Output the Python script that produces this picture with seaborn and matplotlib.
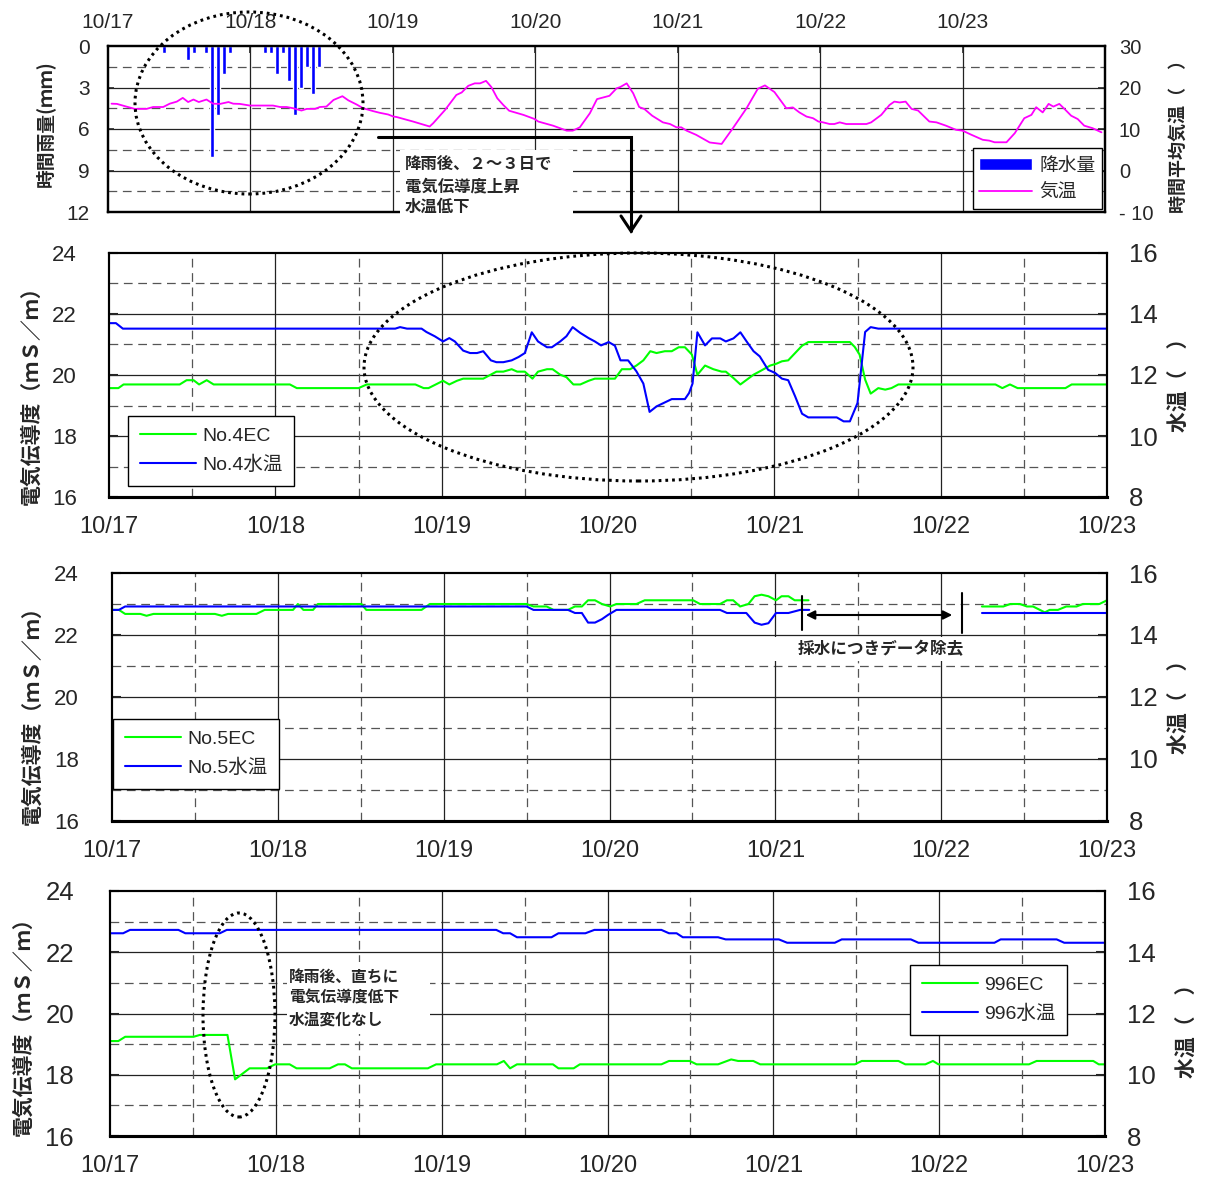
import numpy as np
import matplotlib
matplotlib.use("Agg")
import matplotlib.pyplot as plt
import seaborn as sns
from matplotlib.patches import Ellipse, Rectangle, FancyArrowPatch
from matplotlib.lines import Line2D

# ---------------- data (x = hours since 10/17 00:00) ----------------
day_labels = ["10/17", "10/18", "10/19", "10/20", "10/21", "10/22", "10/23"]

rain_hour = [9.5, 13.5, 14.5, 16.5, 17.5, 18.5, 19.5, 20.5,
             26.5, 27.5, 28.5, 29.5, 30.5, 31.5, 32.5, 33.5, 34.5, 35.5]
rain_mm = [0.5, 1.0, 0.5, 0.5, 8.0, 5.0, 2.0, 0.5,
           0.5, 0.5, 2.0, 0.5, 2.5, 5.0, 3.0, 1.5, 3.5, 1.5]

air_hour = [0.6, 1.5, 3.1, 4.5, 6.5, 7.6, 9.3, 10.4, 11.6, 12.6, 13.5, 14.4, 15.3, 16.6,
            17.7, 18.9, 20.3, 21.1, 22.2, 23.9, 27.8, 29.0, 30.1, 31.2, 32.6, 33.5, 34.9,
            35.7, 36.8, 38.0, 39.5, 40.5, 41.9, 43.0, 44.7, 45.8, 47.2, 48.1, 48.6, 51.4,
            54.2, 54.8, 56.8, 58.7, 59.6, 60.7, 61.8, 62.7, 63.7, 64.6, 65.6, 66.6, 67.6,
            70.0, 71.9, 72.5, 75.0, 77.3, 78.3, 79.5, 81.2, 82.4, 84.5, 85.7, 86.3, 87.4,
            88.5, 89.5, 90.4, 91.7, 93.5, 94.7, 95.8, 96.6, 97.5, 99.1, 101.4, 103.4, 105.3,
            107.6, 109.5, 110.7, 112.3, 114.3, 115.4, 116.5, 117.7, 118.8, 119.7, 120.5,
            121.6, 122.4, 123.3, 124.4, 127.8, 128.6, 130.3, 131.7, 132.5, 133.4, 134.4,
            135.4, 136.5, 138.4, 139.6, 141.2, 142.9, 144.0, 145.5, 147.4, 148.5, 149.4,
            151.4, 152.8, 154.4, 155.6, 156.4, 157.5, 158.5, 159.3, 160.3, 161.2, 162.3,
            163.4, 164.5, 165.9, 167.4]
air_temp = [16.1, 16.05, 15.4, 14.85, 14.85, 15.3, 15.3, 16.1, 16.6, 17.5, 16.5, 17.1, 16.5, 17.1,
            16.1, 16.05, 16.5, 16.1, 16.05, 15.65, 15.65, 15.3, 15.3, 15.0, 14.45, 14.85, 14.85,
            15.3, 15.4, 17.0, 17.9, 16.9, 15.9, 15.0, 14.3, 13.9, 13.5, 13.0, 12.9, 11.8,
            10.6, 11.4, 14.6, 18.2, 18.8, 20.4, 21.0, 21.0, 21.6, 20.1, 17.4, 15.8, 14.4,
            13.4, 12.4, 11.8, 10.8, 9.6, 9.6, 10.4, 13.8, 17.2, 18.0, 19.8, 20.1, 21.0,
            18.6, 15.3, 14.8, 13.2, 11.6, 11.2, 10.4, 10.4, 9.6, 8.6, 6.75, 6.4, 10.2,
            15.0, 19.7, 20.5, 18.9, 15.0, 15.2, 14.0, 13.0, 12.6, 11.8, 11.6,
            11.2, 11.2, 11.6, 11.2, 11.2, 11.6, 13.4, 15.8, 16.6, 16.4, 16.6,
            14.85, 14.45, 11.8, 11.6, 10.8, 9.8, 9.6, 8.6, 7.4, 7.2, 6.8,
            6.8, 9.0, 12.6, 13.4, 15.25, 14.0, 16.05, 15.4, 16.05, 14.8, 13.2,
            12.4, 10.8, 10.2, 9.2]

# No.4
ec4_hour = [0, 1.35, 2.1, 10.2, 11.2, 12.2, 13.0, 14.1, 15.1, 26.1, 27.1, 36.0, 37.2, 44.2, 45.4,
            46.1, 48.2, 49.1, 50.2, 51.1, 54.0, 55.9, 56.9, 58.1, 58.9, 60.0, 61.1, 61.9, 63.2,
            64.0, 65.1, 66.0, 67.0, 68.0, 69.2, 70.1, 73.0, 74.0, 75.2, 76.1, 77.1, 78.1, 79.0,
            80.2, 81.2, 82.2, 83.1, 84.1, 84.9, 86.0, 87.2, 88.4, 89.0, 90.1, 91.1, 93.0, 93.9,
            95.4, 96.3, 97.1, 98.0, 100.0, 100.9, 106.9, 107.6, 108.3, 109.1, 109.9, 111.0,
            112.0, 112.9, 113.9, 127.9, 128.9, 130.0, 131.1, 138.0, 138.9, 144.0]
ec4_val = [19.57, 19.57, 19.69, 19.69, 19.83, 19.83, 19.69, 19.83, 19.69, 19.69, 19.57, 19.57, 19.69,
           19.69, 19.57, 19.57, 19.81, 19.69, 19.81, 19.88, 19.88, 20.11, 20.11, 20.19, 20.11,
           20.11, 19.88, 20.11, 20.19, 20.19, 20.01, 19.93, 19.69, 19.69, 19.81, 19.88, 19.88,
           20.19, 20.19, 20.31, 20.48, 20.78, 20.72, 20.78, 20.78, 20.91, 20.91, 20.67, 20.01,
           20.31, 20.19, 20.11, 20.11, 19.90, 19.69, 20.01, 20.12, 20.31, 20.37, 20.45, 20.48,
           20.96, 21.08, 21.08, 20.92, 20.67, 19.85, 19.39, 19.57, 19.52, 19.57, 19.69, 19.69,
           19.57, 19.69, 19.57, 19.57, 19.69, 19.69]
wt4_hour = [0, 1.0, 2.0, 41.3, 42.0, 43.0, 45.1, 45.8, 47.0, 48.2, 49.1, 49.9, 51.1, 52.1, 53.1,
            54.0, 55.1, 55.9, 56.9, 58.1, 59.1, 60.0, 61.0, 61.9, 63.2, 63.9, 65.1, 66.0, 66.9,
            68.0, 69.2, 70.1, 71.0, 72.1, 73.0, 73.8, 74.9, 76.1, 77.1, 78.0, 79.0, 81.2, 83.1,
            83.7, 84.2, 84.9, 86.0, 87.0, 88.2, 89.0, 90.1, 91.1, 92.0, 93.0, 93.9, 95.1, 96.1,
            97.1, 98.0, 99.0, 100.0, 100.9, 105.0, 106.0, 106.9, 108.0, 109.1, 109.9, 111.0, 144.0]
wt4_val = [13.7, 13.7, 13.52, 13.52, 13.57, 13.52, 13.52, 13.41, 13.27, 13.10, 13.21, 13.10, 12.80,
           12.72, 12.72, 12.78, 12.48, 12.42, 12.42, 12.48, 12.59, 12.72, 13.40, 13.10, 12.91,
           12.91, 13.10, 13.27, 13.57, 13.38, 13.21, 13.10, 12.97, 13.08, 12.96, 12.48, 12.48,
           12.12, 11.72, 10.79, 10.97, 11.21, 11.21, 11.41, 11.72, 13.40, 12.97, 13.20, 13.20,
           13.10, 13.20, 13.40, 13.10, 12.78, 12.61, 12.17, 12.07, 11.88, 11.83, 11.30, 10.73,
           10.61, 10.61, 10.48, 10.48, 11.08, 13.41, 13.57, 13.52, 13.52]

# No.5 (two segments; data removed between them)
ec5a_hour = [0, 1.0, 1.9, 4.1, 5.0, 6.0, 14.9, 15.9, 16.8, 20.9, 22.1, 26.2, 26.9, 27.7, 29.1, 29.8,
             36.1, 36.8, 44.8, 46.0, 60.0, 61.0, 62.9, 63.9, 66.0, 67.0, 68.0, 68.9, 69.9, 70.9,
             72.1, 73.0, 75.9, 77.1, 84.1, 85.1, 88.0, 89.0, 89.9, 90.9, 92.1, 93.0, 94.0, 95.0,
             96.1, 96.9, 97.9, 98.8, 100.8]
ec5a_val = [22.81, 22.81, 22.68, 22.68, 22.62, 22.68, 22.68, 22.62, 22.68, 22.68, 22.81, 22.81, 23.0,
            22.81, 22.81, 23.0, 23.0, 22.81, 22.81, 23.0, 23.0, 22.92, 22.92, 22.81, 22.81, 22.92,
            22.92, 23.12, 23.12, 23.0, 22.92, 23.0, 23.0, 23.12, 23.12, 23.0, 23.0, 23.12, 23.12,
            22.92, 23.0, 23.25, 23.30, 23.25, 23.12, 23.25, 23.25, 23.12, 23.12]
ec5b_hour = [125.9, 129.0, 130.0, 131.4, 132.4, 133.3, 135.0, 135.7, 136.9, 138.1, 139.6, 140.5, 142.9, 144.0]
ec5b_val = [22.92, 22.92, 23.0, 23.0, 22.92, 22.92, 22.73, 22.81, 22.81, 22.92, 22.92, 23.0, 23.0, 23.12]
wt5a_hour = [0, 1.0, 1.9, 60.0, 61.0, 66.0, 67.0, 68.0, 68.9, 69.9, 70.9, 71.8, 73.0, 88.0, 89.0,
             91.8, 93.0, 94.0, 95.0, 96.1, 97.9, 99.6, 100.9]
wt5a_val = [14.81, 14.81, 14.92, 14.92, 14.81, 14.81, 14.71, 14.71, 14.40, 14.40, 14.51, 14.65, 14.81,
            14.81, 14.71, 14.71, 14.40, 14.33, 14.38, 14.71, 14.71, 14.81, 14.81]
wt5b_hour = [125.9, 144.0]
wt5b_val = [14.71, 14.71]

# 996
ec996_hour = [0, 1.2, 2.2, 12.1, 13.0, 17.0, 18.1, 20.2, 22.7, 23.9, 26.0, 27.0, 31.8, 33.0, 34.0,
              35.0, 46.0, 47.2, 56.0, 57.0, 57.9, 58.9, 64.1, 64.9, 67.1, 68.0, 79.8, 80.9, 83.9,
              84.9, 88.0, 89.9, 90.9, 93.1, 94.1, 107.8, 108.8, 114.1, 115.1, 118.0, 119.1, 119.9,
              133.0, 134.1, 142.3, 143.1, 144.0]
ec996_val = [19.10, 19.10, 19.24, 19.24, 19.30, 19.30, 17.85, 18.21, 18.21, 18.34, 18.34, 18.21, 18.21,
             18.34, 18.34, 18.21, 18.21, 18.34, 18.34, 18.45, 18.21, 18.34, 18.34, 18.21, 18.21,
             18.34, 18.34, 18.45, 18.45, 18.34, 18.34, 18.50, 18.45, 18.45, 18.34, 18.34, 18.45,
             18.45, 18.34, 18.34, 18.45, 18.34, 18.34, 18.45, 18.45, 18.34, 18.34]
wt996_hour = [0, 1.9, 2.9, 9.9, 10.9, 15.9, 16.9, 55.9, 56.9, 57.9, 58.9, 63.9, 64.9, 68.8, 70.1,
              79.8, 80.9, 82.0, 82.9, 88.0, 89.1, 96.8, 98.0, 104.9, 105.9, 115.9, 117.0, 128.0,
              128.9, 137.0, 138.1, 144.0]
wt996_val = [14.62, 14.62, 14.73, 14.73, 14.62, 14.62, 14.73, 14.73, 14.62, 14.62, 14.49, 14.49, 14.62,
             14.62, 14.73, 14.73, 14.62, 14.62, 14.49, 14.49, 14.42, 14.42, 14.31, 14.31, 14.42,
             14.42, 14.31, 14.31, 14.42, 14.42, 14.31, 14.31]

# ---------------- style ----------------
sns.set_theme(style="white")
plt.rcParams["font.family"] = ["Liberation Sans", "Noto Sans CJK JP", "DejaVu Sans"]
plt.rcParams["axes.unicode_minus"] = False
JP = ["Noto Sans CJK JP", "DejaVu Sans"]

GREEN, BLUE, MAGENTA = "#00FF00", "#0000FF", "#FF00FF"
FW, FH = 1215, 1186
fig = plt.figure(figsize=(FW / 100, FH / 100), dpi=100)


def fx(px):
    return px / FW


def fy(py):
    return 1 - py / FH


def axes_px(l, t, r, b):
    return fig.add_axes([fx(l), fy(b), (r - l) / FW, (b - t) / FH])


SOLID = dict(color="#222222", lw=0.9, zorder=0.5)
DASH = dict(color="#555555", lw=0.9, ls=(0, (7, 4.5)), zorder=0.5)


def style_spines(axs, lw=1.5, bottom=None):
    for a in axs:
        for s in a.spines.values():
            s.set_linewidth(lw)
            s.set_color("black")
        if bottom:
            a.spines["bottom"].set_linewidth(bottom)


# ---------------- panel 1 : rain + air temp ----------------
ax1 = axes_px(108, 46, 1105, 212)
for v in [3, 6, 9]:
    ax1.axhline(v, **SOLID)
for v in [1.5, 4.5, 7.5, 10.5]:
    ax1.axhline(v, **DASH)
for d in range(24, 168, 24):
    ax1.axvline(d, **SOLID)
bars = ax1.bar(rain_hour, rain_mm, width=0.7, color=BLUE, zorder=2, label="降水量")
ax1.set_ylim(12, 0)
ax1.set_yticks([0, 3, 6, 9, 12])
ax1t = ax1.twinx()
sns.lineplot(x=air_hour, y=air_temp, ax=ax1t, color=MAGENTA, lw=1.3, estimator=None, legend=False)
ax1t.set_ylim(-10, 30)
ax1t.set_yticks([30, 20, 10, 0, -10])
ax1t.set_yticklabels(["30", "20", "10", "0", "- 10"])
ax1.set_xlim(0, 168)
ax1.set_xticks(range(0, 168, 24))
ax1.set_xticklabels(day_labels)
ax1.xaxis.tick_top()
ax1.tick_params(axis="x", top=True, bottom=False, labeltop=True, labelbottom=False,
                direction="in", length=5, width=1.2, pad=10, labelsize=15)
ax1.tick_params(axis="y", direction="in", length=4, width=1.2, pad=13, labelsize=15)
ax1t.tick_params(axis="y", direction="in", length=5, width=1.2, pad=10, labelsize=14.5)
for a in (ax1, ax1t):
    a.set_xlabel("")
    a.set_ylabel("")
style_spines([ax1, ax1t], lw=1.6)
air_line = ax1t.get_lines()[0]
ax1t.legend([bars.patches[0], air_line], ["降水量", "気温"], loc="upper right",
            bbox_to_anchor=(fx(1102), fy(148)), bbox_transform=fig.transFigure,
            borderaxespad=0, fancybox=False, framealpha=1, edgecolor="black",
            prop={"family": JP, "size": 13.5}, handlelength=2.8, handleheight=0.6,
            handletextpad=0.4, labelspacing=0.3, borderpad=0.35).get_frame().set_linewidth(1.0)


# ---------------- panels 2-4 ----------------
def ec_panel(box, ec_segs, wt_segs, names, leg_xy, lsize, rsize, lpad):
    l, t, r, b = box
    ax = axes_px(l, t, r, b)
    for v in [18, 20, 22]:
        ax.axhline(v, **SOLID)
    for v in [17, 19, 21, 23]:
        ax.axhline(v, **DASH)
    for d in range(24, 144, 24):
        ax.axvline(d, **SOLID)
    for d in range(12, 144, 24):
        ax.axvline(d, **DASH)
    for hx, hv in ec_segs:
        sns.lineplot(x=hx, y=hv, ax=ax, color=GREEN, lw=1.5, estimator=None, legend=False)
    axt = ax.twinx()
    for hx, hv in wt_segs:
        sns.lineplot(x=hx, y=hv, ax=axt, color=BLUE, lw=1.5, estimator=None, legend=False)
    ax.set_ylim(16, 24)
    axt.set_ylim(8, 16)
    ax.set_yticks([16, 18, 20, 22, 24])
    axt.set_yticks([8, 10, 12, 14, 16])
    ax.set_xlim(0, 144)
    ax.set_xticks(range(0, 145, 24))
    ax.set_xticklabels(day_labels)
    ax.tick_params(axis="x", direction="inout", length=11, width=1.5, pad=8, labelsize=17)
    ax.tick_params(axis="y", direction="in", length=6.5, width=1.5, pad=lpad, labelsize=lsize)
    axt.tick_params(axis="y", direction="in", length=6.5, width=1.5, pad=16, labelsize=rsize)
    for a in (ax, axt):
        a.set_xlabel("")
        a.set_ylabel("")
    style_spines([ax, axt], lw=1.5, bottom=2.2)
    h = [Line2D([], [], color=GREEN, lw=1.5), Line2D([], [], color=BLUE, lw=1.5)]
    leg = axt.legend(h, names, loc="upper left", bbox_to_anchor=(fx(leg_xy[0]), fy(leg_xy[1])),
                     bbox_transform=fig.transFigure, borderaxespad=0, fancybox=False,
                     framealpha=1, edgecolor="black",
                     prop={"family": ["Liberation Sans", "Noto Sans CJK JP"], "size": 14},
                     handlelength=2.9, handletextpad=0.3, labelspacing=0.55, borderpad=0.6)
    leg.get_frame().set_linewidth(1.0)
    return ax, axt


ax2, ax2t = ec_panel((109, 253, 1107, 497), [(ec4_hour, ec4_val)], [(wt4_hour, wt4_val)],
                     ["No.4EC", "No.4水温"], (128, 416), 16, 18.5, 23)
ax3, ax3t = ec_panel((112, 573, 1107, 821), [(ec5a_hour, ec5a_val), (ec5b_hour, ec5b_val)],
                     [(wt5a_hour, wt5a_val), (wt5b_hour, wt5b_val)],
                     ["No.5EC", "No.5水温"], (113, 719), 16, 18.5, 24)
ax4, ax4t = ec_panel((110, 891, 1105, 1136), [(ec996_hour, ec996_val)], [(wt996_hour, wt996_val)],
                     ["996EC", "996水温"], (910, 965), 18.5, 18.5, 26)

# ---------------- axis titles ----------------
def vlabel(x, y, s, size):
    fig.text(fx(x), fy(y), s, rotation=90, ha="center", va="center", fontsize=size,
             fontweight="bold", family=JP)


vlabel(45, 124, "時間雨量(ｍｍ)", 13.5)
vlabel(1178, 132, "時間平均気温（　）", 13)
vlabel(31, 390, "電気伝導度（ｍＳ／ｍ）", 15)
vlabel(1179, 380, "水温（　）", 15)
vlabel(32, 710, "電気伝導度（ｍＳ／ｍ）", 15)
vlabel(1179, 702, "水温（　）", 15)
vlabel(23, 1021, "電気伝導度（ｍＳ／ｍ）", 15)
vlabel(1187, 1026, "水温（　）", 15)


# ---------------- annotations ----------------
def ellipse(cx, cy, w, h):
    fig.add_artist(Ellipse((fx(cx), fy(cy)), w / FW, h / FH, transform=fig.transFigure,
                           fill=False, ec="black", lw=2.2, ls=(0, (0.9, 1.3)), zorder=20))


def line(xs, ys, lw=2.2):
    fig.add_artist(Line2D([fx(v) for v in xs], [fy(v) for v in ys], transform=fig.transFigure,
                          color="black", lw=lw, zorder=21, solid_joinstyle="miter"))


def white_box(l, t, r, b):
    fig.add_artist(Rectangle((fx(l), fy(b)), (r - l) / FW, (b - t) / FH, transform=fig.transFigure,
                             facecolor="white", edgecolor="none", zorder=19))


def note(x, y, s, size):
    fig.text(fx(x), fy(y), s, ha="left", va="center", fontsize=size, fontweight="bold",
             family=JP, zorder=22)


ellipse(249, 103, 228, 182)
ellipse(638.5, 367, 549, 228)
ellipse(239, 1015, 72, 204)

# arrow from panel 1 note down to panel 2
line([378, 631, 631], [137, 137, 231], lw=2.2)
line([621, 631, 641], [216, 231, 216], lw=2.2)

white_box(400, 150, 573, 216)
note(405, 164, "降雨後、２～３日で", 11.8)
note(405, 186, "電気伝導度上昇", 11.8)
note(405, 207, "水温低下", 11.8)

# panel 3 removed-data note
line([802, 802], [596, 630], lw=1.5)
line([962, 962], [593, 633], lw=1.5)
fig.add_artist(FancyArrowPatch((fx(803), fy(615)), (fx(955), fy(615)), transform=fig.transFigure,
                               arrowstyle="<|-|>", mutation_scale=13, color="black", lw=1.5, zorder=21))
white_box(772, 637, 990, 661)
fig.text(fx(881), fy(649), "採水につきデータ除去", ha="center", va="center", fontsize=12,
         fontweight="bold", family=JP, zorder=22)

# panel 4 note
white_box(287, 962, 430, 1034)
note(289, 977, "降雨後、直ちに", 11.3)
note(289, 998, "電気伝導度低下", 11.3)
note(289, 1020, "水温変化なし", 11.3)

fig.savefig("out.png", dpi=100)
